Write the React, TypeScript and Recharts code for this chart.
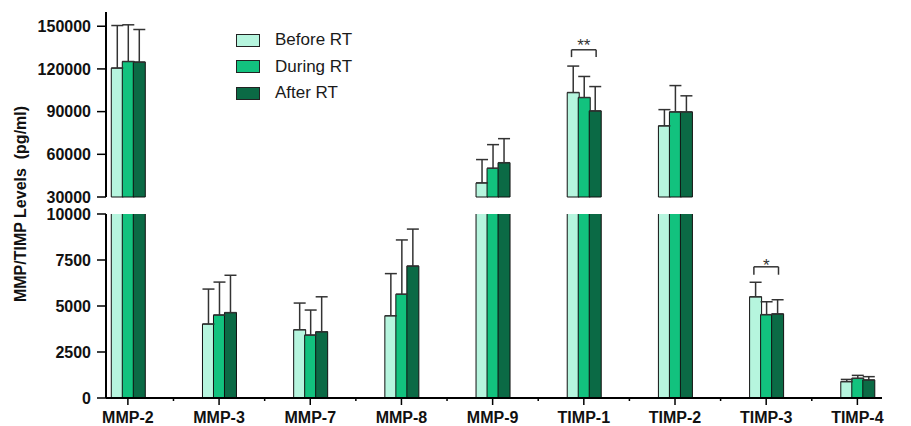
import { BarChart, Bar, XAxis, YAxis, ErrorBar, ReferenceLine, ReferenceDot } from 'recharts';

const categories = ['MMP-2', 'MMP-3', 'MMP-7', 'MMP-8', 'MMP-9', 'TIMP-1', 'TIMP-2', 'TIMP-3', 'TIMP-4'];
const seriesNames = ['Before RT', 'During RT', 'After RT'];

const beforeRT = [120600, 4020, 3710, 4470, 39900, 103400, 80000, 5500, 890];
const beforeSD = [29900, 1900, 1450, 2290, 16400, 18600, 11400, 790, 120];
const duringRT = [125200, 4510, 3420, 5640, 50200, 99900, 89800, 4530, 1070];
const duringSD = [25800, 1790, 1360, 2950, 16600, 14800, 18500, 700, 160];
const afterRT = [124800, 4640, 3600, 7170, 54100, 90500, 89800, 4570, 980];
const afterSD = [22900, 2030, 1900, 2010, 16900, 17100, 11300, 770, 180];

const upperTicks = [30000, 60000, 90000, 120000, 150000];
const lowerTicks = [0, 2500, 5000, 7500, 10000];

// significance brackets (category index, label, bracket top, bracket feet, label height)
const sigCategory = [5, 7];
const sigLabel = ['**', '*'];
const sigTop = [133450, 7130];
const sigFoot = [128300, 6700];
const sigText = [139300, 7450];

const BREAK_LOW = 10000;
const BREAK_HIGH = 30000;

const COLORS = ['#b6f5de', '#12c27e', '#0b6a45'];
const KEYS = ['before', 'during', 'after'];
const FONT = '"Liberation Sans", Arial, sans-serif';

const series = [
  { values: beforeRT, sd: beforeSD },
  { values: duringRT, sd: duringSD },
  { values: afterRT, sd: afterSD },
];

function buildRows(panel: 'upper' | 'lower') {
  return categories.map((name, i) => {
    const row: Record<string, unknown> = { idx: i, name };
    series.forEach((s, k) => {
      const v = s.values[i];
      const key = KEYS[k];
      if (panel === 'upper') {
        row[key] = v >= BREAK_HIGH ? v : null;
        row[key + 'Err'] = v >= BREAK_HIGH ? [0, s.sd[i]] : null;
      } else {
        row[key] = v;
        row[key + 'Err'] = v <= BREAK_LOW ? [0, s.sd[i]] : null;
      }
    });
    return row;
  });
}

const upperRows = buildRows('upper');
const lowerRows = buildRows('lower');

const xDomain: [number, number] = [-0.24, 8.27];
const xTicks = categories.flatMap((_, i) => (i < categories.length - 1 ? [i, i + 0.5] : [i]));

const tickStyle = { fontSize: 16, fontWeight: 700, fill: '#111', fontFamily: FONT };

function XTick(props: any) {
  const { x, y, payload } = props;
  const v = payload.value as number;
  const major = Number.isInteger(v);
  return (
    <g>
      <line x1={x} x2={x} y1={y} y2={y + (major ? 7 : 3)} stroke="#000" strokeWidth={1.5} />
      {major && (
        <text x={x} y={y + 25} textAnchor="middle" fontSize={16} fontWeight={700} fill="#111" fontFamily={FONT}>
          {categories[v]}
        </text>
      )}
    </g>
  );
}

function bars() {
  return KEYS.map((key, k) => (
    <Bar
      key={key}
      dataKey={key}
      name={seriesNames[k]}
      fill={COLORS[k]}
      stroke="#111"
      strokeWidth={1}
      barSize={12}
      isAnimationActive={false}
    >
      <ErrorBar dataKey={key + 'Err'} width={6} stroke="#333" strokeWidth={1.5} direction="y" />
    </Bar>
  ));
}

function brackets(panel: 'upper' | 'lower') {
  const out: any[] = [];
  sigCategory.forEach((c, i) => {
    const inUpper = sigTop[i] >= BREAK_HIGH;
    if ((panel === 'upper') !== inUpper) return;
    const x0 = c - 0.135;
    const x1 = c + 0.135;
    const line = { stroke: '#333', strokeWidth: 1.5, ifOverflow: 'visible' as const };
    out.push(
      <ReferenceLine key={'a' + i} segment={[{ x: x0, y: sigFoot[i] }, { x: x0, y: sigTop[i] }]} {...line} />,
      <ReferenceLine key={'b' + i} segment={[{ x: x0, y: sigTop[i] }, { x: x1, y: sigTop[i] }]} {...line} />,
      <ReferenceLine key={'c' + i} segment={[{ x: x1, y: sigTop[i] }, { x: x1, y: sigFoot[i] }]} {...line} />,
      <ReferenceDot
        key={'d' + i}
        x={c}
        y={sigText[i]}
        r={0}
        ifOverflow="visible"
        shape={(p: any) => (
          <text x={p.cx} y={p.cy} dy="0.57em" textAnchor="middle" fontSize={17} fill="#333" fontFamily={FONT}>
            {sigLabel[i]}
          </text>
        )}
      />
    );
  });
  return out;
}

export default function App() {
  return (
    <div style={{ position: 'absolute', left: 0, top: 0, width: 911, height: 426, background: '#fff', fontFamily: FONT }}>
      <div style={{ position: 'absolute', left: 0, top: 200 }}>
        <BarChart width={911} height={226} data={lowerRows} margin={{ top: 14, right: 29, bottom: 0, left: 0 }} barGap={-1}>
          <XAxis
            dataKey="idx"
            type="number"
            domain={xDomain}
            ticks={xTicks}
            interval={0}
            height={28}
            tickSize={0}
            tickMargin={0}
            tickLine={false}
            axisLine={{ stroke: '#000', strokeWidth: 2 }}
            tick={<XTick />}
          />
          <YAxis
            type="number"
            domain={[0, 10000]}
            ticks={lowerTicks}
            interval={0}
            allowDataOverflow
            width={106}
            tick={tickStyle}
            tickSize={9}
            tickMargin={6}
            axisLine={{ stroke: '#000', strokeWidth: 2 }}
            tickLine={{ stroke: '#000', strokeWidth: 1.5 }}
          />
          {bars()}
          {brackets('lower')}
        </BarChart>
      </div>
      {/* axis break: white band between the two panels */}
      <div style={{ position: 'absolute', left: 107, top: 198, width: 804, height: 15.5, background: '#fff' }} />
      <div style={{ position: 'absolute', left: 0, top: 0 }}>
        <BarChart width={911} height={206} data={upperRows} margin={{ top: 12, right: 29, bottom: 9, left: 0 }} barGap={-1}>
          <XAxis dataKey="idx" type="number" domain={xDomain} hide />
          <YAxis
            type="number"
            domain={[30000, 160000]}
            ticks={upperTicks}
            interval={0}
            width={106}
            tick={tickStyle}
            tickSize={9}
            tickMargin={6}
            axisLine={{ stroke: '#000', strokeWidth: 2 }}
            tickLine={{ stroke: '#000', strokeWidth: 1.5 }}
          />
          {bars()}
          {brackets('upper')}
        </BarChart>
      </div>
      <div
        style={{
          position: 'absolute',
          left: 21,
          top: 204,
          transform: 'translate(-50%, -50%) rotate(-90deg)',
          whiteSpace: 'pre',
          fontSize: 16,
          fontWeight: 700,
          color: '#111',
        }}
      >
        {'MMP/TIMP Levels  (pg/ml)'}
      </div>
      <div style={{ position: 'absolute', left: 236, top: 27 }}>
        {seriesNames.map((n, k) => (
          <div key={n} style={{ display: 'flex', alignItems: 'center', height: 26.5 }}>
            <span
              style={{
                display: 'inline-block',
                width: 22,
                height: 11,
                background: COLORS[k],
                border: '1px solid #222',
                marginRight: 15,
              }}
            />
            <span style={{ fontSize: 17, color: '#1a1a1a' }}>{n}</span>
          </div>
        ))}
      </div>
    </div>
  );
}
